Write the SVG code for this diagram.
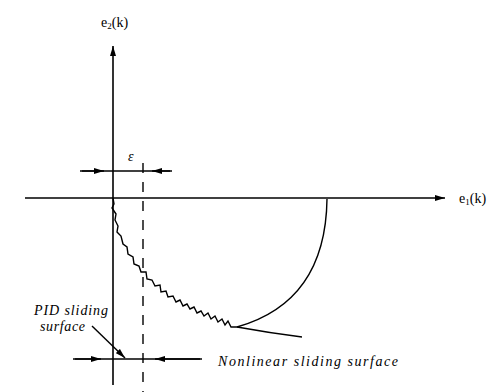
<svg xmlns="http://www.w3.org/2000/svg" width="499" height="392" viewBox="0 0 499 392">
<style>
.ax{stroke:#000;stroke-width:1.6;fill:none}
.ln{stroke:#000;stroke-width:1.4;fill:none}
.dash{stroke:#000;stroke-width:1.4;fill:none;stroke-dasharray:10 9}
.lbl{font-family:"Liberation Serif",serif;font-size:14px;fill:#000}
.it{font-family:"Liberation Serif",serif;font-style:italic;font-size:14px;fill:#000}
</style>
<defs>
<marker id="ah" viewBox="0 0 10 6" refX="10" refY="3" markerWidth="10" markerHeight="6" markerUnits="userSpaceOnUse" orient="auto">
<path d="M0,0 L10,3 L0,6 Z" fill="#000"/>
</marker>
</defs>
<rect width="499" height="392" fill="#fff"/>
<g id="connectors">
<line class="ax" x1="113" y1="385" x2="113" y2="46" marker-end="url(#ah)"/>
<line class="ax" x1="25" y1="198" x2="445" y2="198" marker-end="url(#ah)"/>
<line class="dash" x1="143" y1="163" x2="143" y2="392"/>
<line class="ln" x1="80" y1="171" x2="172" y2="171"/>
<line class="ln" x1="82" y1="171" x2="104" y2="171" marker-end="url(#ah)"/>
<line class="ln" x1="170" y1="171" x2="152" y2="171" marker-end="url(#ah)"/>
<line class="ln" x1="73" y1="359" x2="202" y2="359"/>
<line class="ln" x1="75" y1="359" x2="101" y2="359" marker-end="url(#ah)"/>
<line class="ln" x1="200" y1="359" x2="155" y2="359" marker-end="url(#ah)"/>
<line class="ln" x1="92" y1="326" x2="125" y2="358" marker-end="url(#ah)"/>
</g>
<g id="nonlinear-surface">
<polyline class="ln" stroke-width="1.6" points="113,198 114,204 112,208 116,214 115,220 118,226 117,232 121,236 123,244 127,247 128,254 133,257 134,264 139,266 141,272 146,272 147,279 152,280 155,286 160,285 161,292 166,291 168,297 173,296 176,302 180,300 183,306 187,304 190,309 194,307 197,313 201,311 204,316 208,313 211,319 215,316 218,322 222,319 225,325 228,321 231,327 237,327"/>
<path class="ln" d="M237,327 Q270,333 302,337"/>
</g>
<g id="trajectory">
<path class="ln" d="M237,327 C290,312 326,275 327,199"/>
</g>
<g id="labels">
<text class="lbl" x="101" y="27">e<tspan font-size="9" dy="2">2</tspan><tspan dy="-2">(k)</tspan></text>
<text class="lbl" x="459" y="203">e<tspan font-size="9" dy="2">1</tspan><tspan dy="-2">(k)</tspan></text>
<text class="it" x="128" y="161">ε</text>
<text class="it" x="34" y="315" textLength="74">PID sliding</text>
<text class="it" x="40" y="331" textLength="45">surface</text>
<text class="it" x="218" y="366" textLength="180">Nonlinear sliding surface</text>
</g>
</svg>
